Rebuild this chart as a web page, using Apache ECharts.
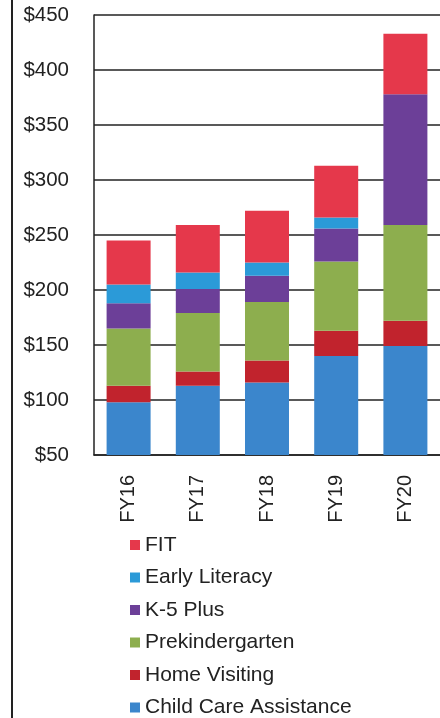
<!DOCTYPE html>
<html><head><meta charset="utf-8">
<script src="https://cdn.jsdelivr.net/npm/echarts@6/dist/echarts.min.js"></script>
<style>html,body{margin:0;padding:0;background:#fff;}#c{width:440px;height:718px;}</style>
</head><body><div id="c"></div>
<script>
var categories = ['FY16', 'FY17', 'FY18', 'FY19', 'FY20'];
var childCare = [98, 113, 116, 140, 149];
var homeVisiting = [15, 13, 20, 23, 23];
var preK = [52, 53, 53, 63, 87];
var k5Plus = [23, 22, 24, 30, 119];
var earlyLiteracy = [17, 15, 12, 10, 0];
var fit = [40, 43, 47, 47, 55];
var yTicks = [50, 450, 50]; // min, max, interval

var chart = echarts.init(document.getElementById('c'), null, {renderer: 'canvas'});
function s(name, data, color) {
  return {name: name, type: 'bar', stack: 'total', data: data, barWidth: 44,
    itemStyle: {color: color}, emphasis: {disabled: true}};
}
chart.setOption({
  animation: false,
  textStyle: {fontFamily: 'Liberation Sans, Arial, sans-serif'},
  grid: {left: 94, top: 15, width: 348, height: 440, containLabel: false},
  graphic: [{type: 'line', shape: {x1: 12, y1: 0, x2: 12, y2: 718}, style: {stroke: '#222', lineWidth: 2}}],
  xAxis: {type: 'category', data: categories,
    axisLine: {show: true, lineStyle: {color: '#222', width: 1.5}},
    axisTick: {show: false},
    axisLabel: {rotate: 90, margin: 20, fontSize: 20, color: '#222'}},
  yAxis: {type: 'value', min: yTicks[0], max: yTicks[1], interval: yTicks[2],
    axisLine: {show: true, lineStyle: {color: '#222', width: 1.5}},
    axisTick: {show: false},
    splitLine: {show: true, lineStyle: {color: '#222', width: 1.5}},
    axisLabel: {formatter: '${value}', fontSize: 20.5, color: '#222', margin: 25}},
  legend: {orient: 'vertical', left: 130, top: 534.5, padding: 0, width: 300, height: 200,
    itemWidth: 10, itemHeight: 10, icon: 'rect',
    itemGap: 11.5, textStyle: {fontSize: 21, color: '#222', lineHeight: 21},
    data: ['FIT', 'Early Literacy', 'K-5 Plus', 'Prekindergarten', 'Home Visiting', 'Child Care Assistance']},
  series: [
    s('Child Care Assistance', childCare, '#3b86cc'),
    s('Home Visiting', homeVisiting, '#c1232d'),
    s('Prekindergarten', preK, '#8dae4e'),
    s('K-5 Plus', k5Plus, '#6c3f98'),
    s('Early Literacy', earlyLiteracy, '#2b9ad8'),
    s('FIT', fit, '#e5384b')
  ]
});
</script></body></html>
